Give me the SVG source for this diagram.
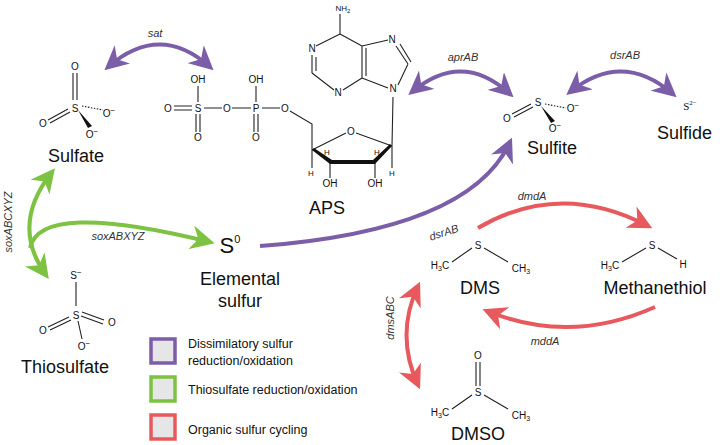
<svg xmlns="http://www.w3.org/2000/svg" width="720" height="445" viewBox="0 0 720 445">
<style>
text{font-family:"Liberation Sans",Arial,sans-serif;fill:#111}
.lab{font-size:18px}
.at{font-size:10px}
.sm{font-size:8px}
.en{font-size:11px;font-style:italic;fill:#333}
.b{stroke:#222;stroke-width:1.1;fill:none}
.p{stroke:#7b5ea7;stroke-width:4;fill:none}
.g{stroke:#7dc242;stroke-width:4;fill:none}
.r{stroke:#e8595d;stroke-width:4;fill:none}
.leg{fill:#e6e6e6;stroke-width:3.5}
</style>
<defs>
<marker id="mp" viewBox="0 0 10 10" refX="8" refY="5" markerWidth="6" markerHeight="6" orient="auto-start-reverse" markerUnits="strokeWidth"><path d="M0,0L10,5L0,10L3,5z" fill="#7b5ea7"/></marker>
<marker id="mg" viewBox="0 0 10 10" refX="8" refY="5" markerWidth="6" markerHeight="6" orient="auto-start-reverse" markerUnits="strokeWidth"><path d="M0,0L10,5L0,10L3,5z" fill="#7dc242"/></marker>
<marker id="mr" viewBox="0 0 10 10" refX="8" refY="5" markerWidth="6" markerHeight="6" orient="auto-start-reverse" markerUnits="strokeWidth"><path d="M0,0L10,5L0,10L3,5z" fill="#e8595d"/></marker>
</defs>
<g id="connectors">
<path class="p" d="M108,67 Q160,22 210,67" marker-start="url(#mp)" marker-end="url(#mp)"/>
<text class="en" x="155" y="37" text-anchor="middle">sat</text>
<path class="p" d="M412,92 Q462,50 510,94" marker-start="url(#mp)" marker-end="url(#mp)"/>
<text class="en" x="463" y="61" text-anchor="middle">aprAB</text>
<path class="p" d="M570,92 Q622,50 673,94" marker-start="url(#mp)" marker-end="url(#mp)"/>
<text class="en" x="625" y="59" text-anchor="middle">dsrAB</text>
<path class="p" d="M260,246 Q470,230 510,142" marker-end="url(#mp)"/>
<text class="en" x="445" y="236" text-anchor="middle" transform="rotate(-18 445 236)">dsrAB</text>
<path class="g" d="M52,172 Q10,225 46,275" marker-start="url(#mg)" marker-end="url(#mg)"/>
<text class="en" x="12" y="222" text-anchor="middle" transform="rotate(-90 12 222)">soxABCXYZ</text>
<path class="g" d="M30,248 Q40,200 210,242" marker-end="url(#mg)"/>
<text class="en" x="118" y="240" text-anchor="middle">soxABXYZ</text>
<path class="r" d="M478,228 Q560,180 648,226" marker-end="url(#mr)"/>
<text class="en" x="532" y="200" text-anchor="middle">dmdA</text>
<path class="r" d="M655,307 Q570,345 487,311" marker-end="url(#mr)"/>
<text class="en" x="545" y="345" text-anchor="middle">mddA</text>
<path class="r" d="M418,286 Q395,335 418,385" marker-start="url(#mr)" marker-end="url(#mr)"/>
<text class="en" x="394" y="318" text-anchor="middle" transform="rotate(-90 394 318)">dmsABC</text>
</g>
<g id="sulfate">
<text class="at" x="75" y="112" text-anchor="middle">S</text>
<text class="at" x="75" y="70" text-anchor="middle">O</text>
<text class="at" x="43" y="127" text-anchor="middle">O</text>
<text class="at" x="109" y="117" text-anchor="middle">O<tspan class="sm" dy="-4">−</tspan></text>
<text class="at" x="92" y="138" text-anchor="middle">O<tspan class="sm" dy="-4">−</tspan></text>
<path class="b" d="M82,106L103,110" stroke-dasharray="1.5 1.5"/>
<path class="b" d="M73,73V100M77,73V100M48,120L68,109M50,123L70,112"/>
<path d="M78,110L92,126L88,128z" fill="#111"/>
<text class="lab" x="76" y="162" text-anchor="middle">Sulfate</text>
</g>
<g id="aps">
<g class="at" text-anchor="middle">
<text x="168" y="112">O</text><text x="198" y="112">S</text><text x="198" y="83">OH</text><text x="198" y="141">O</text>
<text x="227" y="112">O</text><text x="256" y="112">P</text><text x="256" y="83">OH</text><text x="256" y="141">O</text>
<text x="285" y="112">O</text>
<text x="351" y="135">O</text>
<text x="330" y="187">OH</text><text x="375" y="187">OH</text>
<text x="311" y="176" class="sm">H</text><text x="392" y="176" class="sm">H</text>
<text x="327" y="155" class="sm">H</text><text x="377" y="155" class="sm">H</text>
<text x="343" y="11" class="sm">NH<tspan dy="2" font-size="6">2</tspan></text>
<text x="312" y="52">N</text><text x="338" y="96">N</text><text x="392" y="43">N</text><text x="393" y="92">N</text>
</g>
<path class="b" d="M174,106H192M174,110H192M204,108H222M232,108H251M262,108H280M198,86V102M196,114V132M200,114V132M256,86V102M254,114V132M258,114V132
M290,111L312,124V150M312,150L346,133M356,133L392,146M392,146L393,97M312,150V168M392,146V168M330,162V178M375,162V178
M340,14V34M340,34L316,46M340,34L362,46M362,46V78M366,48V76M362,78L343,90M312,55V73M316,57V71M312,73L334,90M362,46L388,40M396,46L408,64M400,44L411,62M408,64L398,85M362,78L388,88"/>
<path d="M312,150L330,164L375,164L392,146L390,144L373,160L332,160L314,148z" fill="#111"/>
<text class="lab" x="327" y="214" text-anchor="middle">APS</text>
</g>
<g id="sulfite">
<text class="at" x="538" y="106" text-anchor="middle">S</text>
<text class="at" x="507" y="122" text-anchor="middle">O</text>
<text class="at" x="573" y="112" text-anchor="middle">O<tspan class="sm" dy="-4">−</tspan></text>
<text class="at" x="555" y="132" text-anchor="middle">O<tspan class="sm" dy="-4">−</tspan></text>
<path class="b" d="M512,114L531,104M514,117L533,107"/>
<path class="b" d="M545,104L566,108" stroke-dasharray="1.5 1.5"/>
<path d="M541,106L555,121L551,123z" fill="#111"/>
<text class="lab" x="552" y="154" text-anchor="middle">Sulfite</text>
</g>
<g id="sulfide">
<text x="690" y="110" text-anchor="middle" style="font-family:'Liberation Serif',serif;font-size:11px">S<tspan font-size="7" dy="-5">2−</tspan></text>
<text class="lab" x="657" y="139">Sulfide</text>
</g>
<g id="elemental-sulfur">
<text x="230" y="253" font-size="22" text-anchor="middle">S<tspan font-size="11" dy="-10">0</tspan></text>
<text class="lab" x="240" y="285" text-anchor="middle">Elemental</text>
<text class="lab" x="240" y="307" text-anchor="middle">sulfur</text>
</g>
<g id="thiosulfate">
<g class="at" text-anchor="middle">
<text x="76" y="279">S<tspan class="sm" dy="-4">−</tspan></text>
<text x="76" y="319">S</text><text x="43" y="334">O</text><text x="112" y="326">O</text>
<text x="84" y="350">O<tspan class="sm" dy="-4">−</tspan></text>
</g>
<path class="b" d="M76,282V306M48,327L69,317M50,330L71,320M82,312L104,320M81,316L103,324M78,321L82,339"/>
<text class="lab" x="65" y="373" text-anchor="middle">Thiosulfate</text>
</g>
<g id="dms">
<text class="at" x="478" y="249" text-anchor="middle">S</text>
<text class="at" x="440" y="269" text-anchor="middle">H<tspan font-size="7" dy="2">3</tspan><tspan dy="-2">C</tspan></text>
<text class="at" x="521" y="272" text-anchor="middle">CH<tspan font-size="7" dy="2">3</tspan></text>
<path class="b" d="M452,262L472,248M484,248L508,262"/>
<text class="lab" x="480" y="294" text-anchor="middle">DMS</text>
</g>
<g id="methanethiol">
<text class="at" x="652" y="249" text-anchor="middle">S</text>
<text class="at" x="610" y="269" text-anchor="middle">H<tspan font-size="7" dy="2">3</tspan><tspan dy="-2">C</tspan></text>
<text class="at" x="683" y="268" text-anchor="middle">H</text>
<path class="b" d="M622,262L646,248M658,248L677,259"/>
<text class="lab" x="655" y="294" text-anchor="middle">Methanethiol</text>
</g>
<g id="dmso">
<text class="at" x="478" y="359" text-anchor="middle">O</text>
<text class="at" x="478" y="396" text-anchor="middle">S</text>
<text class="at" x="440" y="416" text-anchor="middle">H<tspan font-size="7" dy="2">3</tspan><tspan dy="-2">C</tspan></text>
<text class="at" x="521" y="419" text-anchor="middle">CH<tspan font-size="7" dy="2">3</tspan></text>
<path class="b" d="M476,362V386M480,362V386M452,409L472,395M484,395L508,409"/>
<text class="lab" x="478" y="440" text-anchor="middle">DMSO</text>
</g>
<g id="legend">
<rect class="leg" x="151" y="339" width="24" height="24" stroke="#7b5ea7"/>
<rect class="leg" x="151" y="377" width="24" height="24" stroke="#7dc242"/>
<rect class="leg" x="151" y="415" width="24" height="24" stroke="#e8595d"/>
<text x="188" y="348" font-size="12.5">Dissimilatory sulfur</text>
<text x="188" y="365" font-size="12.5">reduction/oxidation</text>
<text x="188" y="394" font-size="12.5">Thiosulfate reduction/oxidation</text>
<text x="188" y="434" font-size="12.5">Organic sulfur cycling</text>
</g>
</svg>
